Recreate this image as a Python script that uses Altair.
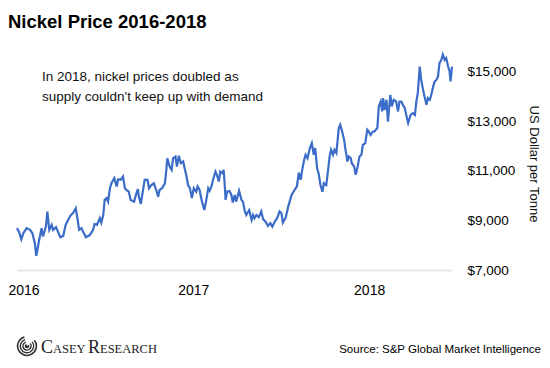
import altair as alt
import pandas as pd

dates_2016 = ["2016-01-01","2016-01-05","2016-01-10","2016-01-14","2016-01-21","2016-01-28","2016-02-02","2016-02-07","2016-02-10","2016-02-16",
"2016-02-21","2016-02-24","2016-03-01","2016-03-04","2016-03-08","2016-03-13","2016-03-16","2016-03-22","2016-03-26","2016-03-31",
"2016-04-06","2016-04-11","2016-04-16","2016-04-22","2016-04-26","2016-05-02","2016-05-06","2016-05-09","2016-05-14","2016-05-17",
"2016-05-23","2016-05-31","2016-06-07","2016-06-10","2016-06-15","2016-06-21","2016-06-24","2016-06-28","2016-07-01","2016-07-05",
"2016-07-08","2016-07-12","2016-07-15","2016-07-21","2016-07-26","2016-07-29","2016-08-03","2016-08-08","2016-08-12","2016-08-15",
"2016-08-20","2016-08-24","2016-08-31","2016-09-05","2016-09-08","2016-09-10","2016-09-14","2016-09-17","2016-09-22","2016-09-28",
"2016-10-01","2016-10-06","2016-10-11","2016-10-16","2016-10-20","2016-10-23","2016-10-28","2016-11-03","2016-11-06","2016-11-08",
"2016-11-13","2016-11-17","2016-11-20","2016-11-25","2016-11-28","2016-12-02","2016-12-06","2016-12-11","2016-12-14","2016-12-18",
"2016-12-21","2016-12-25","2016-12-29"]
prices_2016 = [8690,8550,8240,8480,8690,8620,8480,8080,7570,8210,
8690,8350,8750,9360,8620,8820,8620,8730,8550,8320,
8370,8820,9020,9220,9290,9490,9020,8620,8690,8550,
8320,8410,8620,8860,8820,9090,8910,9220,9830,9900,
9760,10300,10500,10710,10370,10660,10640,10770,10300,10230,
10160,9830,9760,10100,10260,9960,9670,10030,10640,10640,
10300,10430,10500,10230,9960,10230,10300,10500,11040,11510,
11170,11040,11510,11580,11170,11610,11310,11380,11110,10770,
10430,10300,9900]

dates_2017 = ["2017-01-02","2017-01-07","2017-01-10","2017-01-14","2017-01-19","2017-01-21","2017-01-24","2017-01-28","2017-02-01","2017-02-04",
"2017-02-08","2017-02-11","2017-02-16","2017-02-19","2017-02-23","2017-02-26","2017-03-02","2017-03-05","2017-03-07","2017-03-09",
"2017-03-12","2017-03-17","2017-03-21","2017-03-24","2017-03-28","2017-03-31","2017-04-06","2017-04-11","2017-04-14","2017-04-18",
"2017-04-21","2017-04-27","2017-05-02","2017-05-05","2017-05-08","2017-05-12","2017-05-17","2017-05-22","2017-05-26","2017-05-31",
"2017-06-05","2017-06-10","2017-06-14","2017-06-19","2017-06-24","2017-06-29","2017-07-03","2017-07-06","2017-07-12","2017-07-17",
"2017-07-20","2017-07-24","2017-07-30","2017-08-04","2017-08-08","2017-08-12","2017-08-15","2017-08-19","2017-08-22","2017-08-26",
"2017-08-31","2017-09-04","2017-09-08","2017-09-11","2017-09-15","2017-09-18","2017-09-22","2017-09-26","2017-09-29","2017-10-04",
"2017-10-07","2017-10-11","2017-10-14","2017-10-18","2017-10-21","2017-10-25","2017-10-30","2017-11-02","2017-11-06","2017-11-10",
"2017-11-13","2017-11-17","2017-11-20","2017-11-24","2017-11-26","2017-12-01","2017-12-04","2017-12-08","2017-12-12","2017-12-16",
"2017-12-19","2017-12-24","2017-12-28","2017-12-31"]
prices_2017 = [10300,10160,10370,10230,9760,9630,9420,9830,10300,10200,
10390,10640,10970,10840,10570,10970,10910,11040,10500,9830,
10160,10190,10030,9720,10030,9760,10200,9830,9760,9360,
9220,9420,9020,9220,9090,9220,9130,9360,9050,8950,
8780,8890,8750,8950,9090,9360,9290,8910,9130,9560,
9760,10030,10230,10370,10930,10640,11040,11440,11650,11510,
11920,12120,11650,11920,11110,10910,10430,10160,10500,10430,
10910,11580,11850,11650,11850,11720,12730,12860,12590,12250,
11850,11380,11580,11510,11310,11170,10840,11170,11580,11650,
12050,12120,12660,12590]

dates_2018 = ["2018-01-04","2018-01-09","2018-01-12","2018-01-18","2018-01-21","2018-01-25","2018-01-28","2018-01-30","2018-02-02","2018-02-06",
"2018-02-09","2018-02-14","2018-02-17","2018-02-21","2018-02-26","2018-03-02","2018-03-05","2018-03-09","2018-03-12","2018-03-16",
"2018-03-19","2018-03-23","2018-03-28","2018-04-02","2018-04-06","2018-04-09","2018-04-12","2018-04-16","2018-04-19","2018-04-23",
"2018-04-26","2018-04-30","2018-05-03","2018-05-07","2018-05-10","2018-05-14","2018-05-17","2018-05-21","2018-05-24","2018-05-27",
"2018-05-31","2018-06-03","2018-06-07","2018-06-10","2018-06-14","2018-06-17","2018-06-19","2018-06-22"]
prices_2018 = [12450,12590,12590,12730,13600,13800,13400,13940,13460,13870,
12990,14070,13600,13870,13800,13400,13800,13800,13670,13530,
13260,12930,13260,13330,13260,13800,14140,15210,14680,14270,
14000,13670,13940,13870,14070,14410,14610,14680,14810,15350,
15480,15690,15480,15550,15210,15010,14610,15210]

y_ticks = [7000, 9000, 11000, 13000, 15000]
x_tick_years = [2016, 2017, 2018]

title_text = "Nickel Price 2016-2018"
note_lines = ["In 2018, nickel prices doubled as", "supply couldn't keep up with demand"]
y_title = "US Dollar per Tonne"
source_text = "Source: S&P Global Market Intelligence"

df = pd.DataFrame({
    "date": dates_2016 + dates_2017 + dates_2018,
    "price": prices_2016 + prices_2017 + prices_2018,
})

W, H = 435, 223
FONT = "Liberation Sans Narrow, Arial Narrow, Liberation Sans, Arial, sans-serif"
SERIF = "Liberation Serif, Times New Roman, serif"
one = alt.Data(values=[{}])

line = alt.Chart(df).mark_line(color="#3b6cc7", strokeWidth=2.2).encode(
    x=alt.X("date:T",
            scale=alt.Scale(type="utc", domain=[alt.DateTime(year=2016, month=1, date=1, utc=True),
                                                alt.DateTime(year=2018, month=6, date=22, utc=True)]),
            axis=alt.Axis(title=None,
                          values=[alt.DateTime(year=y, month=1, date=1, utc=True) for y in x_tick_years],
                          format="%Y", labelFontSize=14, labelFont=FONT, labelColor="#000",
                          labelPadding=13, ticks=False, grid=False,
                          labelFlush=True, labelFlushOffset=9,
                          domainColor="#e6e6e6", domainWidth=2)),
    y=alt.Y("price:Q",
            scale=alt.Scale(domain=[7000, 16000], nice=False, zero=False),
            axis=alt.Axis(orient="right", title=None, values=y_ticks, format="$,.0f",
                          labelFontSize=13.5, labelFont=FONT, labelColor="#000",
                          labelPadding=15, ticks=False, grid=False, domain=False)),
)

title = alt.Chart(one).mark_text(text=title_text, font=FONT, fontSize=18.5, fontWeight="bold",
                                 align="left", baseline="alphabetic", color="#000").encode(
    x=alt.value(-9), y=alt.value(-19))

note = alt.Chart(one).mark_text(text=note_lines, font=FONT, fontSize=13.5, lineHeight=20,
                                align="left", baseline="alphabetic", color="#111").encode(
    x=alt.value(25), y=alt.value(34))

ytitle = alt.Chart(one).mark_text(text=y_title, font=FONT, fontSize=13, angle=90,
                                  align="center", baseline="middle", color="#111").encode(
    x=alt.value(517), y=alt.value(117))

source = alt.Chart(one).mark_text(text=source_text, font=FONT, fontSize=11.5,
                                  align="right", baseline="alphabetic", color="#000").encode(
    x=alt.value(524), y=alt.value(306))

logo_layers = []
for r1, r2 in [(0, 2.2), (3.4, 4.8), (6.0, 7.4), (8.6, 10.2)]:
    logo_layers.append(
        alt.Chart(one).mark_arc(radius=r1, radius2=r2, theta=0.9, theta2=6.0, color="#333").encode(
            x=alt.value(10), y=alt.value(299)))

def word(big, small, x0):
    a = alt.Chart(one).mark_text(text=big, font=SERIF, fontSize=18, align="left",
                                 baseline="alphabetic", color="#222").encode(
        x=alt.value(x0), y=alt.value(306))
    b = alt.Chart(one).mark_text(text=small, font=SERIF, fontSize=12.5, align="left",
                                 baseline="alphabetic", color="#222").encode(
        x=alt.value(x0 + 12), y=alt.value(306))
    return [a, b]

logo_text = word("C", "ASEY", 24) + word("R", "ESEARCH", 71)

chart = alt.layer(line, title, note, ytitle, source, *logo_layers, *logo_text).properties(
    width=W, height=H,
    autosize=alt.AutoSizeParams(type="none"),
    padding={"left": 9, "top": 39, "right": 90, "bottom": 90},
    background="white",
).configure_view(stroke=None)

chart.save("out.html", embed_options={"renderer": "svg", "actions": False})
